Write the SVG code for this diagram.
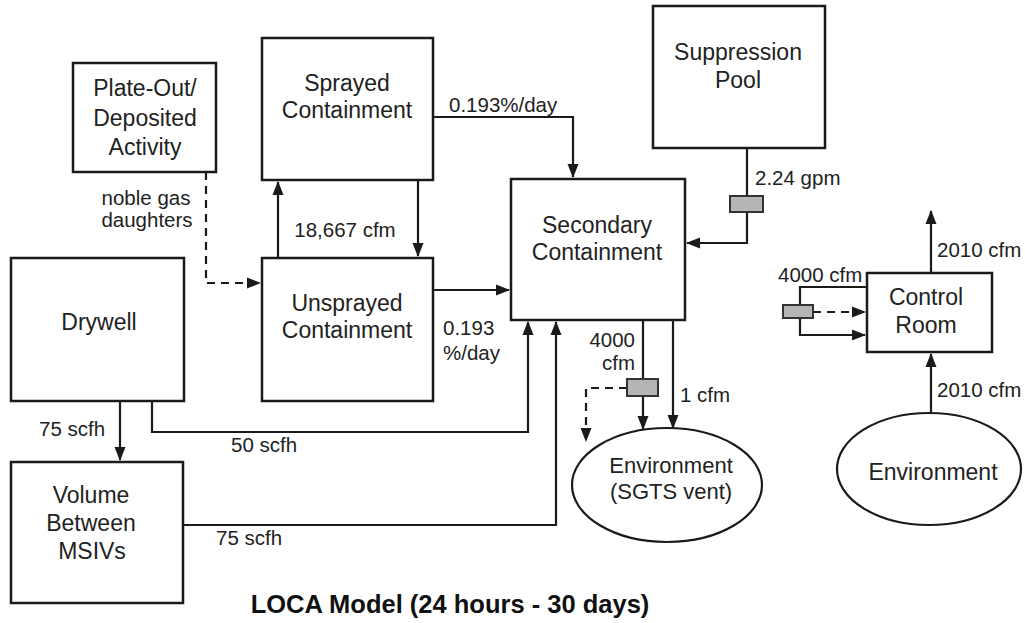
<svg xmlns="http://www.w3.org/2000/svg" width="1025" height="623" viewBox="0 0 1025 623">
<style>
.box{fill:#fff;stroke:#1a1a1a;stroke-width:2.5}
.ell{fill:#fff;stroke:#1a1a1a;stroke-width:2.2}
.valve{fill:#b5b5b5;stroke:#333;stroke-width:2}
.ln{fill:none;stroke:#1a1a1a;stroke-width:2.2}
.dash{fill:none;stroke:#1a1a1a;stroke-width:2.2;stroke-dasharray:8,6}
.nt{font-family:"Liberation Sans",Arial,sans-serif;font-size:23px;fill:#222;text-anchor:middle}
.lb{font-family:"Liberation Sans",Arial,sans-serif;font-size:20.5px;fill:#222}
.title{font-family:"Liberation Sans",Arial,sans-serif;font-size:25.5px;font-weight:bold;fill:#111;text-anchor:middle}
</style>
<defs>
<marker id="ar" markerUnits="userSpaceOnUse" markerWidth="14" markerHeight="14" viewBox="0 0 14 14" refX="13" refY="7" orient="auto">
<path d="M0,1.5 L14,7 L0,12.5 Z" fill="#1a1a1a"/>
</marker>
</defs>
<rect width="1025" height="623" fill="#fff"/>

<g id="connectors">
<path class="dash" d="M206,172 V283 H260" marker-end="url(#ar)"/>
<path class="ln" d="M278,258 V182" marker-end="url(#ar)"/>
<path class="ln" d="M418,180 V256" marker-end="url(#ar)"/>
<path class="ln" d="M433,117 H573 V177" marker-end="url(#ar)"/>
<path class="ln" d="M433,290 H509" marker-end="url(#ar)"/>
<path class="ln" d="M747,148 V243 H687" marker-end="url(#ar)"/>
<path class="ln" d="M120,401 V460" marker-end="url(#ar)"/>
<path class="ln" d="M152,401 V432 H528 V322" marker-end="url(#ar)"/>
<path class="ln" d="M183,525 H556 V322" marker-end="url(#ar)"/>
<path class="ln" d="M643,320 V429" marker-end="url(#ar)"/>
<path class="ln" d="M673,320 V428" marker-end="url(#ar)"/>
<path class="dash" d="M627,388 H586 V441" marker-end="url(#ar)"/>
<path class="ln" d="M931,273 V211" marker-end="url(#ar)"/>
<path class="ln" d="M931,413 V354" marker-end="url(#ar)"/>
<path class="ln" d="M867,287 H800 V335 H865" marker-end="url(#ar)"/>
<path class="dash" d="M813,312 H865" marker-end="url(#ar)"/>
<rect class="valve" x="730" y="196" width="33" height="16"/>
<rect class="valve" x="627" y="379" width="31" height="17"/>
<rect class="valve" x="783" y="305" width="30" height="13"/>
</g>

<g id="plateout">
<rect class="box" x="73" y="63" width="143" height="109"/>
<text class="nt" x="145" y="96">Plate-Out/</text>
<text class="nt" x="145" y="126">Deposited</text>
<text class="nt" x="145" y="155">Activity</text>
</g>
<g id="sprayed">
<rect class="box" x="262" y="38" width="171" height="142"/>
<text class="nt" x="347" y="91">Sprayed</text>
<text class="nt" x="347" y="118">Containment</text>
</g>
<g id="unsprayed">
<rect class="box" x="262" y="258" width="171" height="143"/>
<text class="nt" x="347" y="311">Unsprayed</text>
<text class="nt" x="347" y="338">Containment</text>
</g>
<g id="drywell">
<rect class="box" x="11" y="258" width="173" height="143"/>
<text class="nt" x="99" y="330">Drywell</text>
</g>
<g id="volume">
<rect class="box" x="11" y="462" width="172" height="141"/>
<text class="nt" x="91" y="503">Volume</text>
<text class="nt" x="91" y="531">Between</text>
<text class="nt" x="92" y="559">MSIVs</text>
</g>
<g id="secondary">
<rect class="box" x="511" y="179" width="174" height="141"/>
<text class="nt" x="597" y="233">Secondary</text>
<text class="nt" x="597" y="260">Containment</text>
</g>
<g id="suppression">
<rect class="box" x="653" y="6" width="172" height="142"/>
<text class="nt" x="738" y="60">Suppression</text>
<text class="nt" x="738" y="88">Pool</text>
</g>
<g id="controlroom">
<rect class="box" x="867" y="273" width="125" height="79"/>
<text class="nt" x="926" y="305">Control</text>
<text class="nt" x="926" y="333">Room</text>
</g>
<g id="env-sgts">
<ellipse class="ell" cx="667" cy="485" rx="95" ry="57"/>
<text class="nt" x="671" y="473" style="font-size:22px">Environment</text>
<text class="nt" x="671" y="499" style="font-size:22px">(SGTS vent)</text>
</g>
<g id="env-cr">
<ellipse class="ell" cx="929" cy="469" rx="92" ry="56"/>
<text class="nt" x="933" y="480">Environment</text>
</g>

<g id="labels">
<text class="lb" x="146" y="205" text-anchor="middle">noble gas</text>
<text class="lb" x="147" y="227" text-anchor="middle">daughters</text>
<text class="lb" x="345" y="237" text-anchor="middle">18,667 cfm</text>
<text class="lb" x="449" y="112">0.193%/day</text>
<text class="lb" x="755" y="185">2.24 gpm</text>
<text class="lb" x="443" y="335">0.193</text>
<text class="lb" x="443" y="360">%/day</text>
<text class="lb" x="635" y="347" text-anchor="end">4000</text>
<text class="lb" x="635" y="370" text-anchor="end">cfm</text>
<text class="lb" x="680" y="402">1 cfm</text>
<text class="lb" x="39" y="436">75 scfh</text>
<text class="lb" x="231" y="452">50 scfh</text>
<text class="lb" x="216" y="545">75 scfh</text>
<text class="lb" x="778" y="282">4000 cfm</text>
<text class="lb" x="937" y="257">2010 cfm</text>
<text class="lb" x="937" y="397">2010 cfm</text>
</g>
<text class="title" x="450" y="613">LOCA Model (24 hours - 30 days)</text>
</svg>
